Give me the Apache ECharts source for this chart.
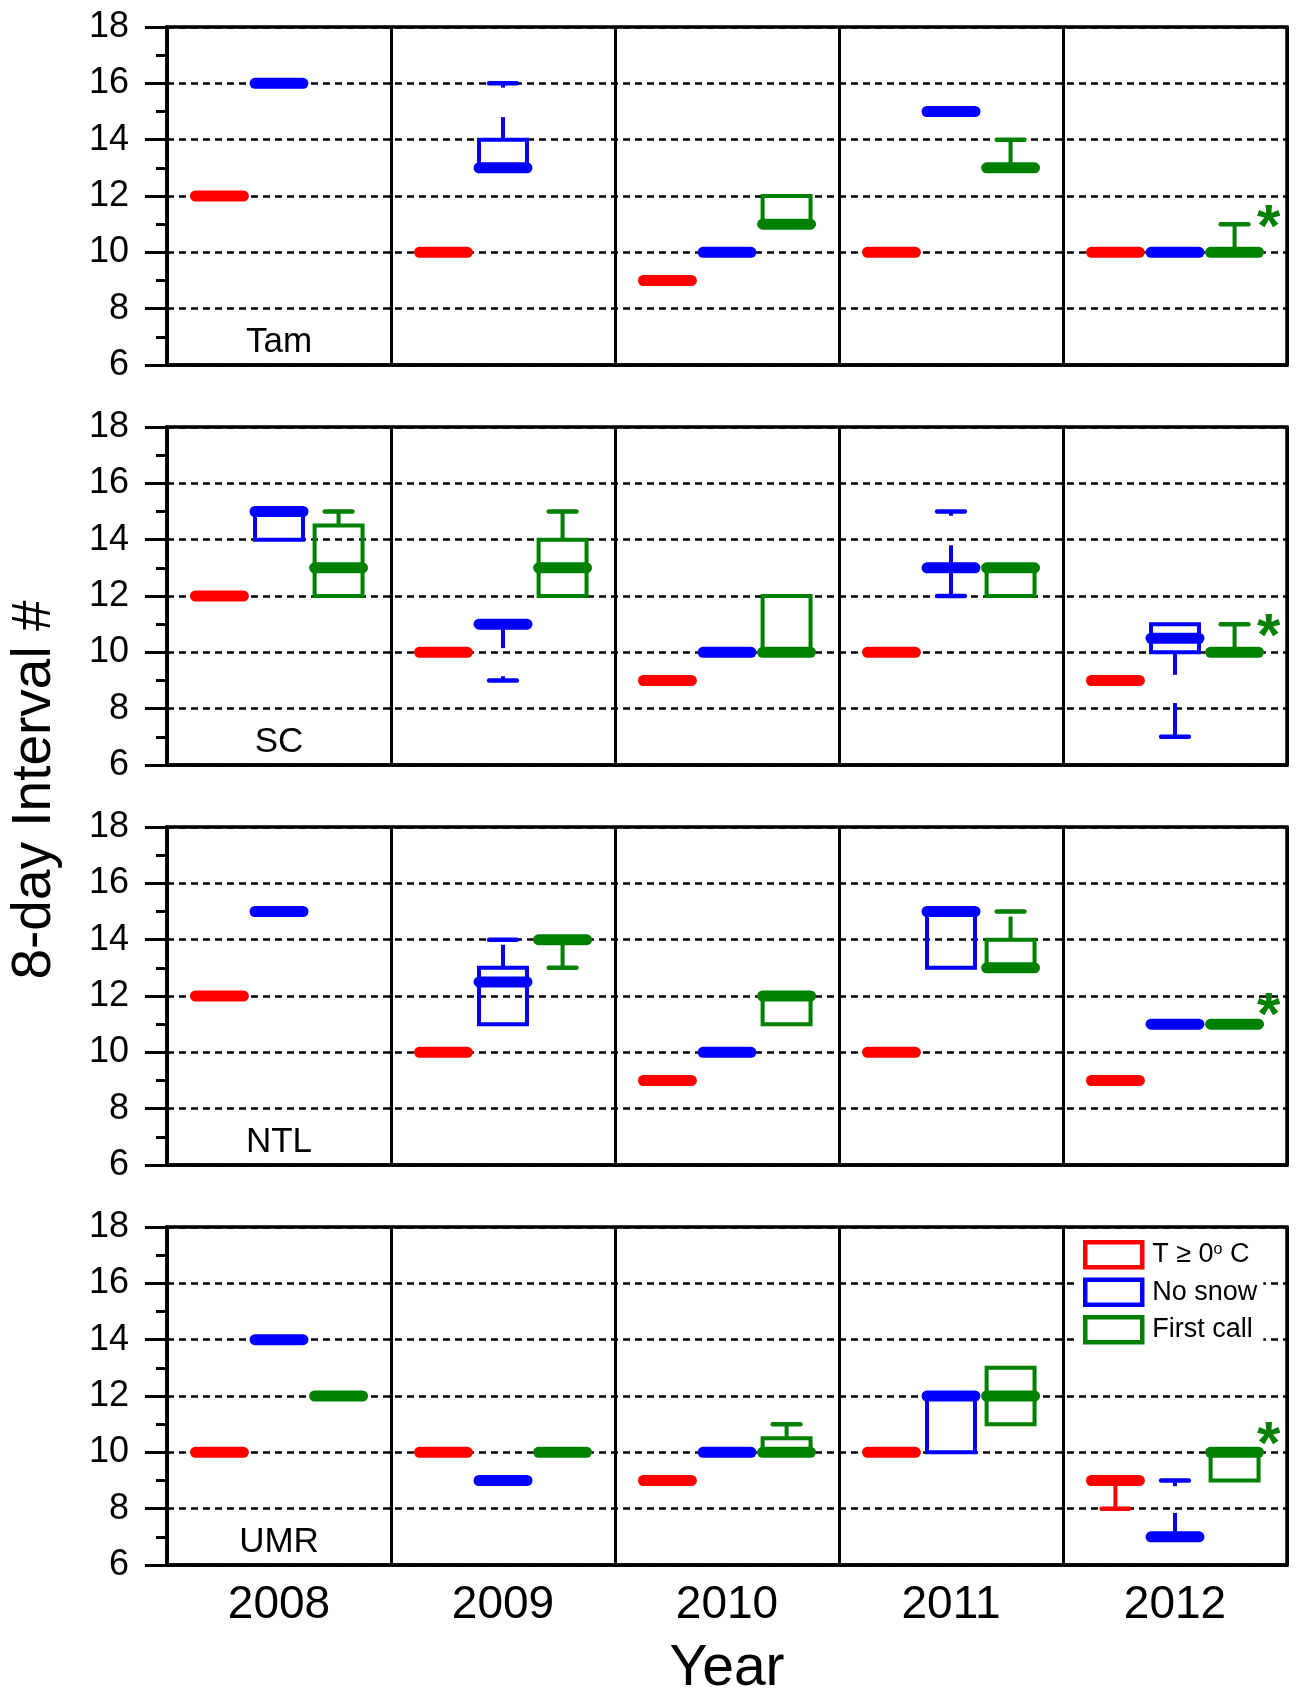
<!DOCTYPE html>
<html><head><meta charset="utf-8">
<script src="https://cdn.jsdelivr.net/npm/echarts@6/dist/echarts.min.js"></script>
<style>html,body{margin:0;padding:0;background:#fff}#c{width:1296px;height:1692px}</style>
</head><body><div id="c"></div>
<script>
const years = ['2008', '2009', '2010', '2011', '2012'];
const sites = ['Tam', 'SC', 'NTL', 'UMR'];
const groupNames = ['T ≥ 0° C', 'No snow', 'First call'];
const yTicks = [6, 8, 10, 12, 14, 16, 18];

// Box records: [min, q1, median, q3, max]; null = no box for that year
const tamT  = [[12,12,12,12,12], [10,10,10,10,10], [9,9,9,9,9], [10,10,10,10,10], [10,10,10,10,10]];
const tamNS = [[16,16,16,16,16], [13,13,13,14,16], [10,10,10,10,10], [15,15,15,15,15], [10,10,10,10,10]];
const tamFC = [null, null, [11,11,11,12,12], [13,13,13,13,14], [10,10,10,10,11]];

const scT  = [[12,12,12,12,12], [10,10,10,10,10], [9,9,9,9,9], [10,10,10,10,10], [9,9,9,9,9]];
const scNS = [[14,14,15,15,15], [9,11,11,11,11], [10,10,10,10,10], [12,13,13,13,15], [7,10,10.5,11,11]];
const scFC = [[12,12,13,14.5,15], [12,12,13,14,15], [10,10,10,12,12], [12,12,13,13,13], [10,10,10,10,11]];

const ntlT  = [[12,12,12,12,12], [10,10,10,10,10], [9,9,9,9,9], [10,10,10,10,10], [9,9,9,9,9]];
const ntlNS = [[15,15,15,15,15], [11,11,12.5,13,14], [10,10,10,10,10], [13,13,15,15,15], [11,11,11,11,11]];
const ntlFC = [null, [13,14,14,14,14], [11,11,12,12,12], [13,13,13,14,15], [11,11,11,11,11]];

const umrT  = [[10,10,10,10,10], [10,10,10,10,10], [9,9,9,9,9], [10,10,10,10,10], [8,9,9,9,9]];
const umrNS = [[14,14,14,14,14], [9,9,9,9,9], [10,10,10,10,10], [10,10,12,12,12], [7,7,7,7,9]];
const umrFC = [[12,12,12,12,12], [10,10,10,10,10], [10,10,10,10.5,11], [11,11,12,13,13], [9,9,10,10,10]];

// Whiskers that stop short of the min/max marker:
// [site, year, group, whiskerLowEnd, lowTickEnd, whiskerHighEnd, highTickEnd]
const whiskerBreaks = [
  [0, 1, 1, null, null, 14.8, 15.85],
  [1, 1, 1, 10.15, 9.15, null, null],
  [1, 3, 1, null, null, 13.8, 14.85],
  [1, 4, 1, 9.2, 8.2, null, null],
  [2, 1, 1, null, null, 13.82, 14],
  [2, 3, 2, null, null, 14.82, 15],
  [3, 4, 1, null, null, 7.85, 8.8]
];

// Asterisk (First call, 2012) vertical position per site
const starY = [11.3, 11.0, 11.75, 10.7];

const siteData = [[tamT, tamNS, tamFC], [scT, scNS, scFC], [ntlT, ntlNS, ntlFC], [umrT, umrNS, umrFC]];
const colors = ['#ff0000', '#0000ff', '#008000'];
const FONT = '"Liberation Sans", Arial, sans-serif';

const gridTops = [27, 427, 827, 1227];
const GH = 338;
const OFF = 0.266, HW = 0.107, CW = 0.062;

function buildData(s, g) {
  const out = [];
  siteData[s][g].forEach((r, i) => {
    if (!r) return;
    let wLo = r[0], tLo = r[0], wHi = r[4], tHi = r[4];
    whiskerBreaks.forEach(b => {
      if (b[0] === s && b[1] === i && b[2] === g) {
        if (b[3] != null) { wLo = b[3]; tLo = b[4]; }
        if (b[5] != null) { wHi = b[5]; tHi = b[6]; }
      }
    });
    out.push([i, r[0], r[1], r[2], r[3], r[4], wLo, tLo, wHi, tHi]);
  });
  return out;
}

function makeRender(g) {
  return function (params, api) {
    const cat = api.value(0);
    const mn = api.value(1), q1 = api.value(2), md = api.value(3), q3 = api.value(4), mx = api.value(5);
    const wLo = api.value(6), tLo = api.value(7), wHi = api.value(8), tHi = api.value(9);
    const bw = api.size([1, 0])[0];
    const xc = api.coord([cat, md])[0] + (g - 1) * OFF * bw;
    const Y = v => api.coord([cat, v])[1];
    const hw = HW * bw, cw = CW * bw;
    const col = colors[g];
    const ch = [];
    const ln = (x1, y1, x2, y2, w, cap) => ({
      type: 'line', shape: { x1, y1, x2, y2 },
      style: { stroke: col, lineWidth: w, lineCap: cap || 'butt', fill: null }
    });
    if (q3 > q1) {
      ch.push({ type: 'rect', shape: { x: xc - hw, y: Y(q3), width: 2 * hw, height: Y(q1) - Y(q3) },
        style: { fill: null, stroke: col, lineWidth: 4 } });
    }
    if (mx > q3) {
      if (wHi > q3) ch.push(ln(xc, Y(q3), xc, Y(wHi), 4));
      ch.push(ln(xc - cw, Y(mx), xc + cw, Y(mx), 4.5, 'round'));
      if (tHi < mx) ch.push(ln(xc, Y(mx), xc, Y(tHi), 4));
    }
    if (mn < q1) {
      if (wLo < q1) ch.push(ln(xc, Y(q1), xc, Y(wLo), 4));
      ch.push(ln(xc - cw, Y(mn), xc + cw, Y(mn), 4.5, 'round'));
      if (tLo > mn) ch.push(ln(xc, Y(mn), xc, Y(tLo), 4));
    }
    ch.push(ln(xc - hw, Y(md), xc + hw, Y(md), 11, 'round'));
    return { type: 'group', children: ch };
  };
}

function starRender(params, api) {
  const bw = api.size([1, 0])[0];
  const p = api.coord([api.value(0), api.value(1)]);
  return {
    type: 'text', x: p[0] + OFF * bw + 34, y: p[1] + 14,
    style: { text: '*', fill: '#008000', font: 'bold 60px ' + FONT, align: 'center', verticalAlign: 'middle' }
  };
}

const grids = [], xAxes = [], yAxes = [], series = [], graphics = [];
sites.forEach((site, s) => {
  grids.push({ left: 167, right: 9, top: gridTops[s], height: GH, show: true, borderColor: '#000', borderWidth: 3.5 });
  xAxes.push({
    type: 'category', gridIndex: s, data: years, boundaryGap: true,
    axisLine: { show: true, lineStyle: { color: '#000', width: 3.5 } },
    axisTick: { show: false },
    axisLabel: { show: s === 3, fontSize: 46, color: '#000', fontFamily: FONT, margin: 17 },
    splitLine: { show: true, lineStyle: { color: '#000', width: 3, type: 'solid' } }
  });
  yAxes.push({
    type: 'value', gridIndex: s, min: yTicks[0], max: yTicks[yTicks.length - 1], interval: 2,
    axisLine: { show: true, lineStyle: { color: '#000', width: 3.5 } },
    axisTick: { show: true, inside: false, length: 22, lineStyle: { color: '#000', width: 3 } },
    minorTick: { show: true, splitNumber: 2, length: 11, lineStyle: { color: '#000', width: 3 } },
    axisLabel: { fontSize: 36, color: '#000', fontFamily: FONT, margin: 38 },
    splitLine: { show: true, lineStyle: { color: '#000', width: 2.6, type: [7, 5] } }
  });
  [0, 1, 2].forEach(g => {
    series.push({
      type: 'custom', name: groupNames[g], xAxisIndex: s, yAxisIndex: s,
      itemStyle: { color: colors[g] },
      renderItem: makeRender(g), encode: { x: 0, y: [1, 2, 3, 4, 5] },
      data: buildData(s, g), z: 3
    });
  });
  series.push({
    type: 'custom', xAxisIndex: s, yAxisIndex: s, renderItem: starRender,
    encode: { x: 0, y: 1 }, data: [[4, starY[s]]], z: 4
  });
  graphics.push({
    type: 'text', x: 279, y: gridTops[s] + 315,
    style: { text: site, font: '35px ' + FONT, fill: '#000', align: 'center', verticalAlign: 'middle' }, z: 10
  });
});

graphics.push({
  type: 'text', x: 35, y: 790, rotation: Math.PI / 2,
  style: { text: '8-day Interval #', font: '55px ' + FONT, fill: '#000', align: 'center', verticalAlign: 'middle' }
});
graphics.push({
  type: 'text', x: 727, y: 1669,
  style: { text: 'Year', font: '57px ' + FONT, fill: '#000', align: 'center', verticalAlign: 'middle' }
});

const chart = echarts.init(document.getElementById('c'), null, { renderer: 'canvas' });
chart.setOption({
  animation: false,
  backgroundColor: '#fff',
  grid: grids, xAxis: xAxes, yAxis: yAxes, series: series, graphic: graphics,
  legend: {
    left: 1079, top: 1236, orient: 'vertical', padding: [4, 6, 4, 4], itemGap: 8,
    backgroundColor: '#fff', selectedMode: false, icon: 'rect',
    itemWidth: 57, itemHeight: 25,
    data: groupNames.map((n, g) => ({ name: n, itemStyle: { color: '#fff', borderColor: colors[g], borderWidth: 4.5 } })),
    formatter: n => n === groupNames[0] ? 'T ≥ 0{sup|o} C' : n,
    textStyle: {
      fontSize: 27, color: '#000', fontFamily: FONT, lineHeight: 27, padding: [0, 0, 0, 5],
      rich: { sup: { fontSize: 16, verticalAlign: 'top', lineHeight: 27, padding: [0, 0, 10, 0] } }
    },
    z: 20
  }
});
</script></body></html>
